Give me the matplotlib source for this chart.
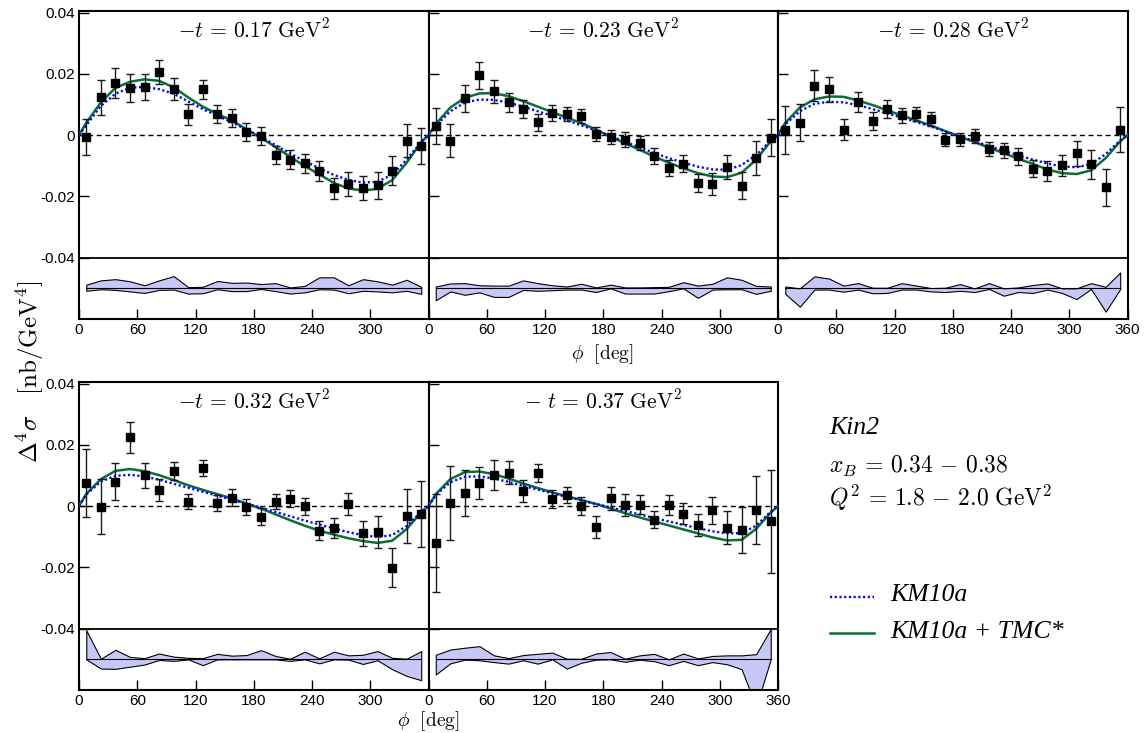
import matplotlib
matplotlib.use("Agg")
from matplotlib import pyplot as plt
from matplotlib.lines import Line2D

plt.rcParams['mathtext.fontset'] = 'cm'
plt.rcParams['axes.unicode_minus'] = False
plt.rcParams['font.family'] = ['Liberation Sans', 'DejaVu Sans']

# phi bins of the data (deg)
phi = [7.5, 22.5, 37.5, 52.5, 67.5, 82.5, 97.5, 112.5, 127.5, 142.5, 157.5, 172.5,
       187.5, 202.5, 217.5, 232.5, 247.5, 262.5, 277.5, 292.5, 307.5, 322.5, 337.5, 352.5]
# phi grid of the model curves (deg)
phi_curve = [0] + phi + [360]

titles = [r'$-t\, =\, 0.17\ \mathrm{GeV}^2$', r'$-t\, =\, 0.23\ \mathrm{GeV}^2$',
          r'$-t\, =\, 0.28\ \mathrm{GeV}^2$', r'$-t\, =\, 0.32\ \mathrm{GeV}^2$',
          r'$-\ t\, =\, 0.37\ \mathrm{GeV}^2$']

# -t = 0.17
val_017 = [-0.0006, 0.0123, 0.0170, 0.0154, 0.0158, 0.0205, 0.0150, 0.0068, 0.0149, 0.0069, 0.0056, 0.0010,
           -0.0003, -0.0064, -0.0080, -0.0092, -0.0118, -0.0174, -0.0160, -0.0173, -0.0164, -0.0116, -0.0018, -0.0036]
err_017 = [0.0059, 0.0058, 0.0048, 0.0045, 0.0043, 0.0039, 0.0036, 0.0035, 0.0032, 0.0030, 0.0030, 0.0029,
           0.0030, 0.0030, 0.0032, 0.0031, 0.0033, 0.0033, 0.0039, 0.0040, 0.0044, 0.0048, 0.0055, 0.0059]
sysup_017 = [0.0012, 0.0026, 0.0030, 0.0023, 0.0010, 0.0026, 0.0040, 0.0004, 0.0005, 0.0024, 0.0018, 0.0019,
             0.0014, 0.0017, 0.0003, 0.0008, 0.0036, 0.0036, 0.0010, 0.0030, 0.0023, 0.0012, 0.0028, 0.0005]
sysdn_017 = [0.0008, 0.0003, 0.0005, 0.0010, 0.0015, 0.0005, 0.0004, 0.0017, 0.0016, 0.0003, 0.0009, 0.0009,
             0.0002, 0.0009, 0.0017, 0.0013, 0.0003, 0.0004, 0.0016, 0.0008, 0.0010, 0.0013, 0.0008, 0.0018]
km_017 = [0, 0.0032, 0.0095, 0.0135, 0.0155, 0.0157, 0.0150, 0.0135, 0.0110, 0.0085, 0.0063, 0.0042, 0.0018,
          -0.0006, -0.0033, -0.0060, -0.0085, -0.0108, -0.0130, -0.0146, -0.0155, -0.0152, -0.0129, -0.0080, -0.0022, 0]
tmc_017 = [0, 0.0040, 0.0107, 0.0154, 0.0174, 0.0182, 0.0177, 0.0156, 0.0123, 0.0093, 0.0069, 0.0048, 0.0019,
           -0.0009, -0.0039, -0.0071, -0.0101, -0.0128, -0.0156, -0.0174, -0.0181, -0.0175, -0.0147, -0.0090, -0.0023, 0]

# -t = 0.23
val_023 = [0.0030, -0.0018, 0.0120, 0.0195, 0.0143, 0.0107, 0.0084, 0.0042, 0.0071, 0.0070, 0.0062, 0.0003,
           -0.0006, -0.0015, -0.0027, -0.0068, -0.0106, -0.0093, -0.0156, -0.0160, -0.0104, -0.0165, -0.0074, -0.0008]
err_023 = [0.0060, 0.0053, 0.0045, 0.0043, 0.0037, 0.0032, 0.0029, 0.0028, 0.0026, 0.0023, 0.0022, 0.0022,
           0.0022, 0.0024, 0.0023, 0.0025, 0.0026, 0.0028, 0.0029, 0.0036, 0.0038, 0.0045, 0.0055, 0.0061]
sysup_023 = [0.0006, 0.0016, 0.0017, 0.0010, 0.0009, 0.0009, 0.0026, 0.0017, 0.0010, 0.0006, 0.0015, 0.0003,
             0.0012, 0.0003, 0.0003, 0.0004, 0.0005, 0.0020, 0.0009, 0.0015, 0.0036, 0.0028, 0.0008, 0.0006]
sysdn_023 = [0.0039, 0.0010, 0.0021, 0.0013, 0.0028, 0.0028, 0.0005, 0.0008, 0.0006, 0.0004, 0.0004, 0.0012,
             0.0000, 0.0017, 0.0017, 0.0017, 0.0009, 0.0000, 0.0031, 0.0004, 0.0003, 0.0003, 0.0018, 0.0008]
km_023 = [0, 0.0030, 0.0078, 0.0106, 0.0116, 0.0115, 0.0106, 0.0093, 0.0078, 0.0063, 0.0048, 0.0032, 0.0015,
          -0.0003, -0.0022, -0.0040, -0.0058, -0.0075, -0.0090, -0.0103, -0.0112, -0.0113, -0.0098, -0.0065, -0.0018, 0]
tmc_023 = [0, 0.0036, 0.0090, 0.0122, 0.0136, 0.0137, 0.0127, 0.0111, 0.0093, 0.0075, 0.0057, 0.0039, 0.0018,
           -0.0005, -0.0027, -0.0048, -0.0070, -0.0090, -0.0108, -0.0124, -0.0135, -0.0137, -0.0123, -0.0080, -0.0020, 0]

# -t = 0.28
val_028 = [0.0017, 0.0041, 0.0161, 0.0149, 0.0018, 0.0108, 0.0047, 0.0085, 0.0065, 0.0069, 0.0054, -0.0015,
           -0.0014, -0.0004, -0.0045, -0.0050, -0.0069, -0.0109, -0.0117, -0.0098, -0.0059, -0.0095, -0.0170, 0.0018]
err_028 = [0.0077, 0.0061, 0.0050, 0.0042, 0.0035, 0.0032, 0.0029, 0.0029, 0.0024, 0.0022, 0.0023, 0.0022,
           0.0022, 0.0023, 0.0022, 0.0024, 0.0027, 0.0029, 0.0033, 0.0034, 0.0041, 0.0048, 0.0060, 0.0073]
sysup_028 = [0.0006, 0.0000, 0.0039, 0.0032, 0.0009, 0.0017, 0.0002, 0.0002, 0.0017, 0.0009, 0.0001, 0.0002,
             0.0014, 0.0000, 0.0017, 0.0000, 0.0003, 0.0011, 0.0016, 0.0000, 0.0000, 0.0017, 0.0005, 0.0052]
sysdn_028 = [0.0018, 0.0060, 0.0004, 0.0004, 0.0011, 0.0004, 0.0016, 0.0015, 0.0004, 0.0004, 0.0010, 0.0012,
             0.0008, 0.0012, 0.0002, 0.0024, 0.0012, 0.0015, 0.0004, 0.0015, 0.0035, 0.0002, 0.0076, 0.0002]
km_028 = [0, 0.0035, 0.0078, 0.0102, 0.0109, 0.0107, 0.0098, 0.0085, 0.0071, 0.0057, 0.0043, 0.0028, 0.0012,
          -0.0004, -0.0020, -0.0036, -0.0051, -0.0066, -0.0080, -0.0093, -0.0102, -0.0105, -0.0095, -0.0062, -0.0017, 0]
tmc_028 = [0, 0.0040, 0.0090, 0.0117, 0.0126, 0.0125, 0.0113, 0.0098, 0.0081, 0.0064, 0.0048, 0.0031, 0.0013,
           -0.0005, -0.0023, -0.0041, -0.0059, -0.0077, -0.0094, -0.0112, -0.0124, -0.0127, -0.0115, -0.0075, -0.0020, 0]

# -t = 0.32
val_032 = [0.0074, -0.0002, 0.0080, 0.0225, 0.0100, 0.0052, 0.0114, 0.0015, 0.0123, 0.0009, 0.0027, -0.0003,
           -0.0035, 0.0015, 0.0024, 0.0000, -0.0080, -0.0072, 0.0007, -0.0089, -0.0085, -0.0201, -0.0033, -0.0027]
err_032 = [0.0111, 0.0090, 0.0060, 0.0051, 0.0040, 0.0035, 0.0030, 0.0026, 0.0026, 0.0026, 0.0028, 0.0025,
           0.0028, 0.0025, 0.0027, 0.0028, 0.0030, 0.0032, 0.0035, 0.0041, 0.0052, 0.0064, 0.0088, 0.0108]
sysup_032 = [0.0095, 0.0002, 0.0031, 0.0008, 0.0004, 0.0019, 0.0009, 0.0005, 0.0004, 0.0018, 0.0012, 0.0014,
             0.0030, 0.0011, 0.0002, 0.0025, 0.0003, 0.0025, 0.0013, 0.0015, 0.0027, 0.0005, 0.0002, 0.0027]
sysdn_032 = [0.0000, 0.0030, 0.0031, 0.0024, 0.0017, 0.0002, 0.0005, 0.0000, 0.0019, 0.0000, 0.0000, 0.0000,
             0.0000, 0.0000, 0.0005, 0.0000, 0.0013, 0.0000, 0.0001, 0.0015, 0.0003, 0.0032, 0.0054, 0.0068]
km_032 = [0, 0.0038, 0.0080, 0.0099, 0.0102, 0.0097, 0.0086, 0.0073, 0.0060, 0.0047, 0.0034, 0.0021, 0.0008,
          -0.0005, -0.0019, -0.0033, -0.0047, -0.0060, -0.0073, -0.0085, -0.0095, -0.0101, -0.0095, -0.0065, -0.0018, 0]
tmc_032 = [0, 0.0040, 0.0088, 0.0115, 0.0121, 0.0114, 0.0101, 0.0085, 0.0068, 0.0053, 0.0039, 0.0025, 0.0008,
           -0.0008, -0.0027, -0.0046, -0.0064, -0.0080, -0.0093, -0.0105, -0.0114, -0.0120, -0.0113, -0.0075, -0.0020, 0]

# -t = 0.37
val_037 = [-0.0121, 0.0011, 0.0042, 0.0075, 0.0101, 0.0109, 0.0049, 0.0108, 0.0024, 0.0037, 0.0001, -0.0068,
           0.0025, 0.0005, 0.0004, -0.0045, 0.0004, -0.0025, -0.0062, -0.0014, -0.0071, -0.0078, -0.0012, -0.0050]
err_037 = [0.0160, 0.0120, 0.0075, 0.0052, 0.0049, 0.0038, 0.0036, 0.0030, 0.0029, 0.0027, 0.0029, 0.0036,
           0.0039, 0.0036, 0.0031, 0.0028, 0.0032, 0.0034, 0.0037, 0.0043, 0.0054, 0.0076, 0.0110, 0.0168]
sysup_037 = [0.0015, 0.0032, 0.0038, 0.0043, 0.0013, 0.0004, 0.0014, 0.0018, 0.0022, 0.0002, 0.0002, 0.0019,
             0.0024, 0.0002, 0.0013, 0.0018, 0.0000, 0.0019, 0.0003, 0.0011, 0.0013, 0.0013, 0.0017, 0.0099]
sysdn_037 = [0.0049, 0.0013, 0.0001, 0.0003, 0.0009, 0.0014, 0.0003, 0.0014, 0.0000, 0.0030, 0.0011, 0.0001,
             0.0000, 0.0008, 0.0001, 0.0006, 0.0019, 0.0005, 0.0019, 0.0009, 0.0016, 0.0032, 0.0155, 0.0000]
km_037 = [0, 0.0036, 0.0078, 0.0096, 0.0097, 0.0090, 0.0079, 0.0066, 0.0054, 0.0042, 0.0030, 0.0019, 0.0007,
          -0.0004, -0.0016, -0.0027, -0.0039, -0.0050, -0.0061, -0.0072, -0.0082, -0.0089, -0.0088, -0.0064, -0.0018, 0]
tmc_037 = [0, 0.0039, 0.0088, 0.0111, 0.0113, 0.0104, 0.0090, 0.0074, 0.0059, 0.0045, 0.0032, 0.0020, 0.0007,
           -0.0008, -0.0023, -0.0037, -0.0050, -0.0063, -0.0076, -0.0089, -0.0102, -0.0112, -0.0110, -0.0074, -0.0021, 0]

yticks = [-0.04, -0.02, 0, 0.02, 0.04]
ytick_labels = ['-0.04', '-0.02', '0', '0.02', '0.04']
xticks = [0, 60, 120, 180, 240, 300, 360]

BLUE = '#0000ff'
GREEN = '#0c6e36'
BAND = '#c8c8f8'
BAND_CENTER = -0.05

W, H = 1146.0, 733.0
fig = plt.figure(figsize=(W / 100, H / 100), dpi=100)

panel_w = 349.5 / W
panel_h = 308 / H
# (left px, bottom px) of each panel
corners = [(79, 319), (428.5, 319), (778, 319), (79, 690), (428.5, 690)]
panels = [
    (val_017, err_017, sysup_017, sysdn_017, km_017, tmc_017),
    (val_023, err_023, sysup_023, sysdn_023, km_023, tmc_023),
    (val_028, err_028, sysup_028, sysdn_028, km_028, tmc_028),
    (val_032, err_032, sysup_032, sysdn_032, km_032, tmc_032),
    (val_037, err_037, sysup_037, sysdn_037, km_037, tmc_037),
]

for i, (val, err, sup, sdn, km, tmc) in enumerate(panels):
    x0, y0 = corners[i]
    ax = fig.add_axes([x0 / W, 1 - y0 / H, panel_w, panel_h])

    # systematic band below the -0.04 line
    lo = [BAND_CENTER - d for d in sdn]
    hi = [BAND_CENTER + u for u in sup]
    ax.fill_between(phi, lo, hi, facecolor=BAND, edgecolor='k', linewidth=0.8, zorder=2)
    ax.plot([phi[0], phi[-1]], [BAND_CENTER, BAND_CENTER], color='k', lw=0.8, zorder=3)
    ax.axhline(-0.04, color='k', lw=1.3, zorder=3)
    ax.axhline(0, color='k', lw=1.0, dashes=(3.6, 2.6), zorder=2)

    ax.plot(phi_curve, tmc, color=GREEN, lw=1.8, zorder=4)
    ax.plot(phi_curve, km, color=BLUE, lw=1.7, dashes=(0.9, 1.1), zorder=5)
    ax.errorbar(phi, val, yerr=err, fmt='s', color='k', ecolor='#1a1a1a', ms=5.5,
                capsize=3, elinewidth=1.0, capthick=1.0, zorder=6)

    ax.set_xlim(0, 360)
    ax.set_ylim(-0.06, 0.0405)
    ax.set_xticks(xticks)
    if i in (2, 4):
        ax.set_xticklabels([str(x) for x in xticks])
    else:
        ax.set_xticklabels([str(x) for x in xticks[:-1]] + [''])
    ax.set_yticks(yticks)
    if i in (0, 3):
        ax.set_yticklabels(ytick_labels)
    else:
        ax.set_yticklabels([])
    ax.tick_params(direction='in', length=7, width=1.0, labelsize=11, pad=3,
                   top=False, right=False)
    for sp in ax.spines.values():
        sp.set_linewidth(1.5)

    ax.text(0.5, 0.935, titles[i], transform=ax.transAxes, ha='center', va='center', fontsize=15.5)

# axis labels
fig.text(602 / W, 1 - 354 / H, r'$\phi\ \ [\mathrm{deg}]$', ha='center', va='center', fontsize=14)
fig.text(428 / W, 1 - 721 / H, r'$\phi\ \ [\mathrm{deg}]$', ha='center', va='center', fontsize=14)
fig.text(30 / W, 1 - 372 / H, r'$\Delta^4\sigma\ \ \ [\mathrm{nb/GeV}^4]$', rotation=90,
         ha='center', va='center', fontsize=18)

# kinematics block
fig.text(829 / W, 1 - 428 / H, 'Kin2', family='Liberation Serif', style='italic',
         fontsize=18.5, va='center')
fig.text(829 / W, 1 - 466 / H, r'$x_B\, =\, 0.34\, -\, 0.38$', fontsize=17, va='center')
fig.text(829 / W, 1 - 498 / H, r'$Q^2\, =\, 1.8\, -\, 2.0\ \mathrm{GeV}^2$', fontsize=17, va='center')

# legend
fig.add_artist(Line2D([830 / W, 874 / W], [1 - 597 / H] * 2, color=BLUE, lw=1.7, dashes=(0.9, 1.1)))
fig.add_artist(Line2D([830 / W, 874 / W], [1 - 633 / H] * 2, color=GREEN, lw=1.8))
fig.text(890 / W, 1 - 595 / H, 'KM10a', family='Liberation Serif', style='italic',
         fontsize=18.5, va='center')
fig.text(890 / W, 1 - 632 / H, 'KM10a + TMC*', family='Liberation Serif', style='italic',
         fontsize=18.5, va='center')

fig.savefig('out.png', dpi=100)
